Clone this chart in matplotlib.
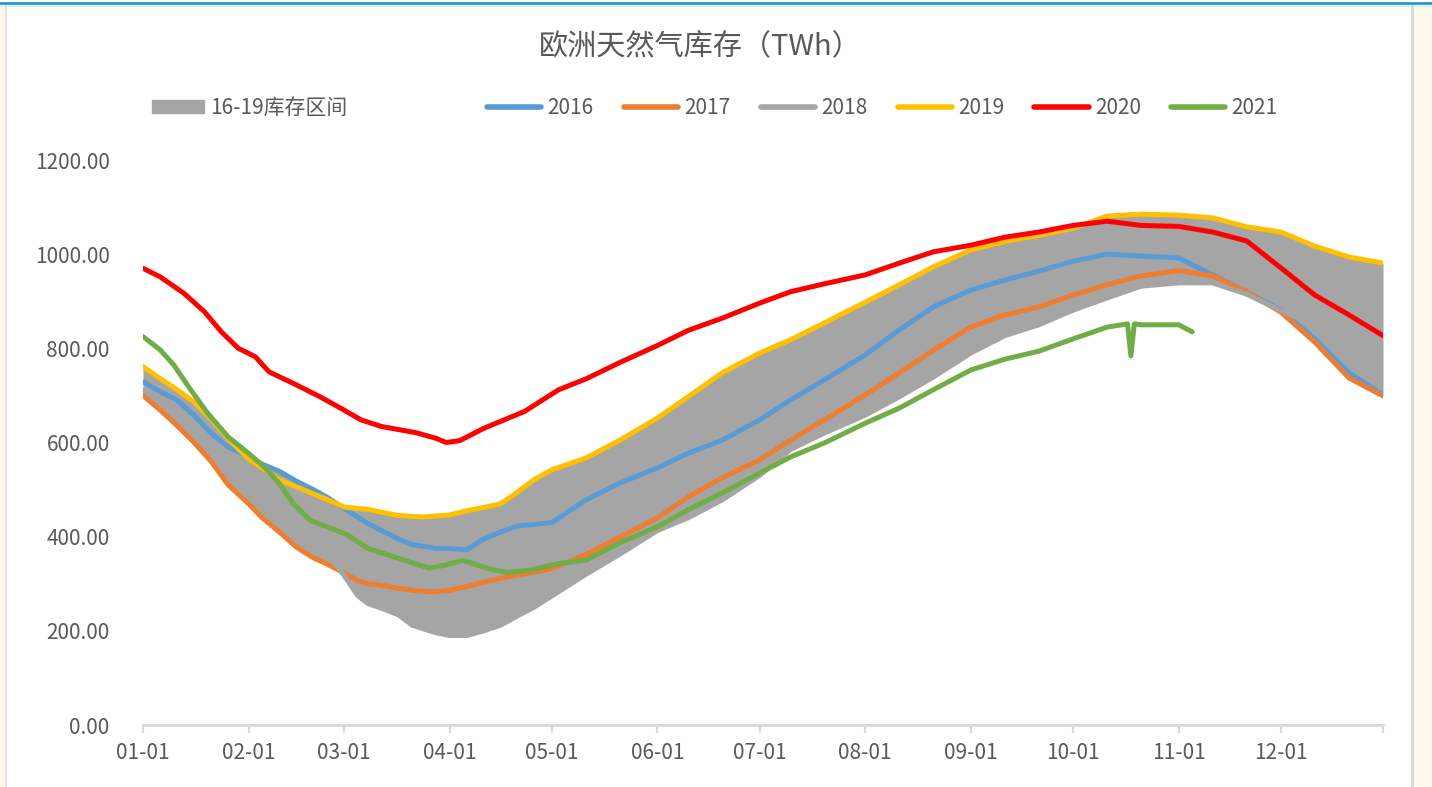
import matplotlib.pyplot as plt
import numpy as np
from matplotlib.patches import Patch, Rectangle
from matplotlib.lines import Line2D

plt.rcParams['font.family'] = ['Noto Sans CJK SC', 'DejaVu Sans']

# day of year (0 = 01-01), sampled from the chart; shared by 2016-2019 (used for the band)
days = [0, 5, 10, 15, 20, 25, 31, 35, 40, 45, 50, 54, 59, 63, 66, 70, 75, 79, 82, 86, 90, 95, 100, 105,
        110, 115, 120, 130, 140, 151, 160, 170, 181, 190, 200, 212, 222, 232, 243, 253, 263, 273, 283,
        293, 304, 314, 324, 334, 344, 354, 364]

s2016 = [729, 708, 690, 658, 620, 590, 570, 554, 539, 518, 500, 484, 460, 442, 428, 413, 395, 383, 380, 375,
         375, 372, 395, 410, 423, 426, 430, 478, 514, 546, 577, 605, 648, 690, 733, 786, 839, 888, 924, 945,
         964, 985, 1000, 996, 992, 956, 920, 881, 820, 748, 701]
s2017 = [700, 669, 636, 600, 560, 510, 470, 440, 410, 378, 355, 342, 323, 307, 300, 297, 290, 286, 284, 283,
         286, 294, 303, 312, 318, 325, 332, 362, 399, 440, 484, 525, 563, 605, 648, 701, 748, 796, 845, 871,
         888, 913, 935, 954, 965, 954, 920, 877, 813, 737, 699]
s2018 = [712, 690, 665, 630, 595, 560, 530, 505, 475, 445, 400, 365, 318, 275, 258, 248, 234, 212, 205, 196,
         190, 190, 200, 212, 232, 251, 274, 320, 363, 413, 440, 478, 530, 585, 620, 658, 697, 739, 790, 827,
         850, 881, 907, 932, 939, 939, 915, 880, 850, 810, 762]
s2019 = [761, 736, 712, 686, 650, 608, 565, 546, 521, 506, 491, 479, 463, 460, 458, 452, 445, 443, 442, 444,
         446, 455, 462, 470, 495, 522, 542, 567, 605, 652, 697, 748, 790, 818, 854, 898, 935, 973, 1009, 1027,
         1040, 1055, 1081, 1085, 1083, 1077, 1058, 1047, 1017, 994, 981]

days_2020 = [0, 5, 12, 18, 23, 28, 33, 37, 44, 52, 58, 64, 70, 80, 86, 89, 93, 100, 107, 112, 122, 130, 140,
             151, 160, 170, 181, 190, 200, 212, 222, 232, 243, 253, 263, 273, 283, 293, 304, 314, 324, 334,
             344, 354, 364]
s2020 = [970, 952, 917, 878, 835, 800, 782, 750, 726, 697, 673, 648, 634, 621, 609, 600, 604, 630, 651, 666,
         712, 735, 770, 806, 838, 864, 896, 920, 937, 956, 981, 1005, 1019, 1036, 1047, 1061, 1070, 1061, 1059,
         1047, 1028, 971, 913, 871, 827]

days_2021 = [0, 5, 9, 14, 19, 25, 31, 36, 40, 44, 49, 54, 60, 66, 72, 78, 84, 89, 94, 98, 103, 107, 113, 122,
             130, 140, 151, 160, 170, 181, 190, 200, 212, 222, 232, 243, 253, 263, 273, 283, 289, 290, 291,
             293, 304, 308]
s2021 = [825, 797, 765, 712, 662, 612, 577, 545, 513, 471, 435, 421, 404, 375, 361, 347, 333, 340, 350, 340,
         329, 324, 328, 343, 350, 387, 421, 457, 493, 535, 569, 599, 641, 673, 712, 754, 777, 794, 820, 845,
         852, 784, 852, 850, 850, 835]

month_days = [0, 31, 59, 90, 120, 151, 181, 212, 243, 273, 304, 334, 364]
month_labels = ['01-01', '02-01', '03-01', '04-01', '05-01', '06-01', '07-01', '08-01',
                '09-01', '10-01', '11-01', '12-01', '']
yticks = [0, 200, 400, 600, 800, 1000, 1200]

lines = [('2016', days, s2016, '#5B9BD5'), ('2017', days, s2017, '#ED7D31'),
         ('2018', days, s2018, '#A5A5A5'), ('2019', days, s2019, '#FFC000'),
         ('2020', days_2020, s2020, '#FF0000'), ('2021', days_2021, s2021, '#70AD47')]

W, H = 1432, 787
fig = plt.figure(figsize=(W / 100, H / 100), dpi=100)
ax = fig.add_axes([143 / W, 1 - 725 / H, 1240 / W, 565 / H])

# 16-19 range band
hist = np.array([s2016, s2017, s2018, s2019])
ax.fill_between(days, hist.min(axis=0), hist.max(axis=0), color='#A5A5A5', lw=0, zorder=1)

for name, x, vals, col in lines:
    ax.plot(x, vals, color=col, lw=3.6, solid_capstyle='round', solid_joinstyle='round', zorder=2)

ax.set_xlim(0, 364)
ax.set_ylim(0, 1200)
ax.set_xticks(month_days)
ax.set_xticklabels(month_labels)
ax.set_yticks(yticks)
ax.set_yticklabels([f'{v:.2f}' for v in yticks])
ax.tick_params(axis='y', length=0, pad=24, labelsize=15, labelcolor='#595959')
ax.tick_params(axis='x', length=6, width=1.5, color='#D9D9D9', labelsize=15, labelcolor='#595959', pad=6)
for sp in ['top', 'right', 'left']:
    ax.spines[sp].set_visible(False)
ax.spines['bottom'].set_color('#D9D9D9')
ax.spines['bottom'].set_linewidth(2)

fig.text(0.489, 1 - 47 / H, '欧洲天然气库存（TWh）', ha='center', va='center',
         fontsize=21, color='#595959')

# legends
fig.legend([Patch(color='#A5A5A5')], ['16-19库存区间'], loc='center left',
           bbox_to_anchor=(152 / W, 1 - 108 / H), frameon=False, fontsize=15,
           handlelength=2.5, handleheight=0.55, handletextpad=0.3, borderpad=0, borderaxespad=0,
           labelcolor='#595959')
line_handles = [Line2D([], [], color=c, lw=4, solid_capstyle='round') for _, _, _, c in lines]
fig.legend(line_handles, [n for n, _, _, _ in lines], loc='center left',
           bbox_to_anchor=(487 / W, 1 - 108 / H), ncol=6, frameon=False, fontsize=15,
           handlelength=2.6, handletextpad=0.3, columnspacing=1.45, borderpad=0, borderaxespad=0,
           labelcolor='#595959')

# page frame
fig.add_artist(Line2D([0, 1], [1 - 2.5 / H] * 2, transform=fig.transFigure, color='#1E9AD6', lw=2))
fig.add_artist(Line2D([0, 1], [1 - 5.5 / H] * 2, transform=fig.transFigure, color='#E4E4E4', lw=1))
fig.add_artist(Rectangle((0, 0), 5 / W, 1 - 6 / H, transform=fig.transFigure, color='#FFF8EC', lw=0))
fig.add_artist(Line2D([6 / W] * 2, [0, 1 - 6 / H], transform=fig.transFigure, color='#E4E4E4', lw=1.5))
fig.add_artist(Rectangle((1413 / W, 0), 19 / W, 1 - 6 / H, transform=fig.transFigure, color='#FFF8EC', lw=0))
fig.add_artist(Line2D([1412 / W] * 2, [0, 1 - 6 / H], transform=fig.transFigure, color='#D9D9D9', lw=2))

fig.savefig('out.png', dpi=100)
